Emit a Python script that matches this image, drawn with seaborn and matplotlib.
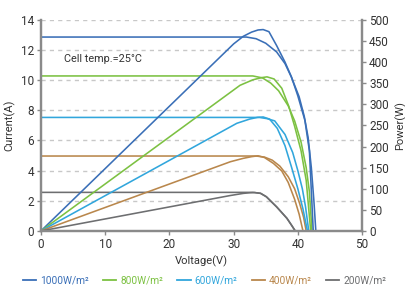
import matplotlib.pyplot as plt
import pandas as pd
import seaborn as sns
from matplotlib.lines import Line2D

# irradiance levels and colours
levels = ['1000W/m²', '800W/m²', '600W/m²', '400W/m²', '200W/m²']
colors = ['#3a6fb7', '#7cc142', '#31a6dc', '#b9874c', '#6d6e70']

# I-V curves (Voltage V, Current A)
iv_v = [
    [0, 32, 33.5, 35, 36.7, 38, 39.0, 40.2, 41.0, 41.6, 42.1, 42.5, 42.8],
    [0, 33, 34.5, 35.8, 37, 38.5, 39.5, 40.5, 41.3, 41.8, 42.2],
    [0, 34, 35.2, 36.4, 38, 39.2, 40.0, 40.7, 41.2, 41.7],
    [0, 33.5, 34.8, 36, 37.2, 38.5, 39.5, 40.3, 40.9, 41.3],
    [0, 33, 34.2, 35.1, 36.7, 38.3, 39.0, 39.6],
]
iv_i = [
    [12.86, 12.86, 12.75, 12.45, 11.87, 11.1, 10.2, 8.9, 7.6, 6.2, 4.2, 2.0, 0],
    [10.28, 10.28, 10.15, 9.8, 9.3, 8.3, 7.3, 5.9, 4.2, 2.6, 0],
    [7.53, 7.53, 7.45, 7.3, 6.4, 5.2, 4.0, 2.8, 1.6, 0],
    [4.97, 4.97, 4.9, 4.7, 4.3, 3.6, 2.8, 1.8, 0.9, 0],
    [2.56, 2.56, 2.5, 2.27, 1.6, 0.84, 0.4, 0],
]

# P-V curves (Voltage V, Power W)
pv_v = [
    [0, 30, 31.5, 32.8, 33.8, 34.6, 35.5, 36.7, 38, 39, 40, 41.1, 41.8, 42.4],
    [0, 31, 33, 34.3, 35.2, 36.3, 37.5, 38.6, 39.5, 40.5, 41.3, 42.0],
    [0, 30.5, 32.5, 33.7, 34.6, 35.6, 36.8, 38, 39, 40, 40.8, 41.5],
    [0, 29.5, 31.5, 32.8, 33.8, 34.8, 36.2, 37.5, 38.5, 39.5, 40.2, 40.8],
    [0, 29.5, 31.5, 32.5, 33.3, 34.2, 35.1, 36.7, 38.3, 39.0, 39.6],
]
pv_p = [
    [0, 443, 461, 471, 476, 477, 472, 439, 400, 365, 320, 262, 190, 0],
    [0, 345, 358, 363, 365, 360, 338, 295, 248, 190, 120, 0],
    [0, 255, 265, 269, 270, 265, 243, 202, 152, 100, 52, 0],
    [0, 164, 172, 176, 178, 174, 160, 142, 115, 75, 40, 0],
    [0, 84, 89, 90.5, 91, 89, 81, 57, 30, 14, 0],
]


def main():
    plt.rcParams['font.family'] = ['Roboto', 'DejaVu Sans']
    fig = plt.figure(figsize=(4.05, 2.92), dpi=100)
    ax = fig.add_axes([0.101, 0.209, 0.793, 0.723])
    ax2 = ax.twinx()

    for k in range(len(levels)):
        df_iv = pd.DataFrame({'V': iv_v[k], 'I': iv_i[k]})
        df_pv = pd.DataFrame({'V': pv_v[k], 'P': pv_p[k]})
        sns.lineplot(data=df_iv, x='V', y='I', ax=ax, color=colors[k],
                     lw=1.15, sort=False, estimator=None)
        sns.lineplot(data=df_pv, x='V', y='P', ax=ax2, color=colors[k],
                     lw=1.15, sort=False, estimator=None)

    ax.set_xlim(0, 50)
    ax.set_ylim(0, 14)
    ax2.set_ylim(0, 500)
    ax.set_xticks(range(0, 51, 10))
    ax.set_yticks(range(0, 15, 2))
    ax2.set_yticks(range(0, 501, 50))

    for y in range(2, 15, 2):
        ax.axhline(y, color='#c8c8c8', lw=1, ls=(0, (3, 3)), zorder=0)

    spine_c = '#8a8a8a'
    for a in (ax, ax2):
        a.spines['top'].set_visible(False)
        for s in ('left', 'right', 'bottom'):
            a.spines[s].set_color(spine_c)
            a.spines[s].set_linewidth(1.6)
        a.tick_params(colors=spine_c, labelcolor='#333333', labelsize=8.5,
                      length=3, width=1, pad=2)

    ax.set_xlabel('Voltage(V)', fontsize=8, color='#333333', labelpad=3)
    ax.set_ylabel('Current(A)', fontsize=8, color='#333333', labelpad=4)
    ax2.set_ylabel('Power(W)', fontsize=8, color='#333333', labelpad=4)

    ax.text(3.6, 11.2, 'Cell temp.=25°C', fontsize=7.8, color='#333333')

    handles = [Line2D([0], [0], color=c, lw=1.3) for c in colors]
    leg = fig.legend(handles, levels, loc='center', bbox_to_anchor=(0.505, 0.04),
                     ncol=5, frameon=False, fontsize=7.3, handlelength=1.3,
                     handletextpad=0.4, columnspacing=1.4)
    for t, c in zip(leg.get_texts(), colors):
        t.set_color(c)

    fig.savefig('out.png', dpi=100)


if __name__ == "__main__":
    main()
